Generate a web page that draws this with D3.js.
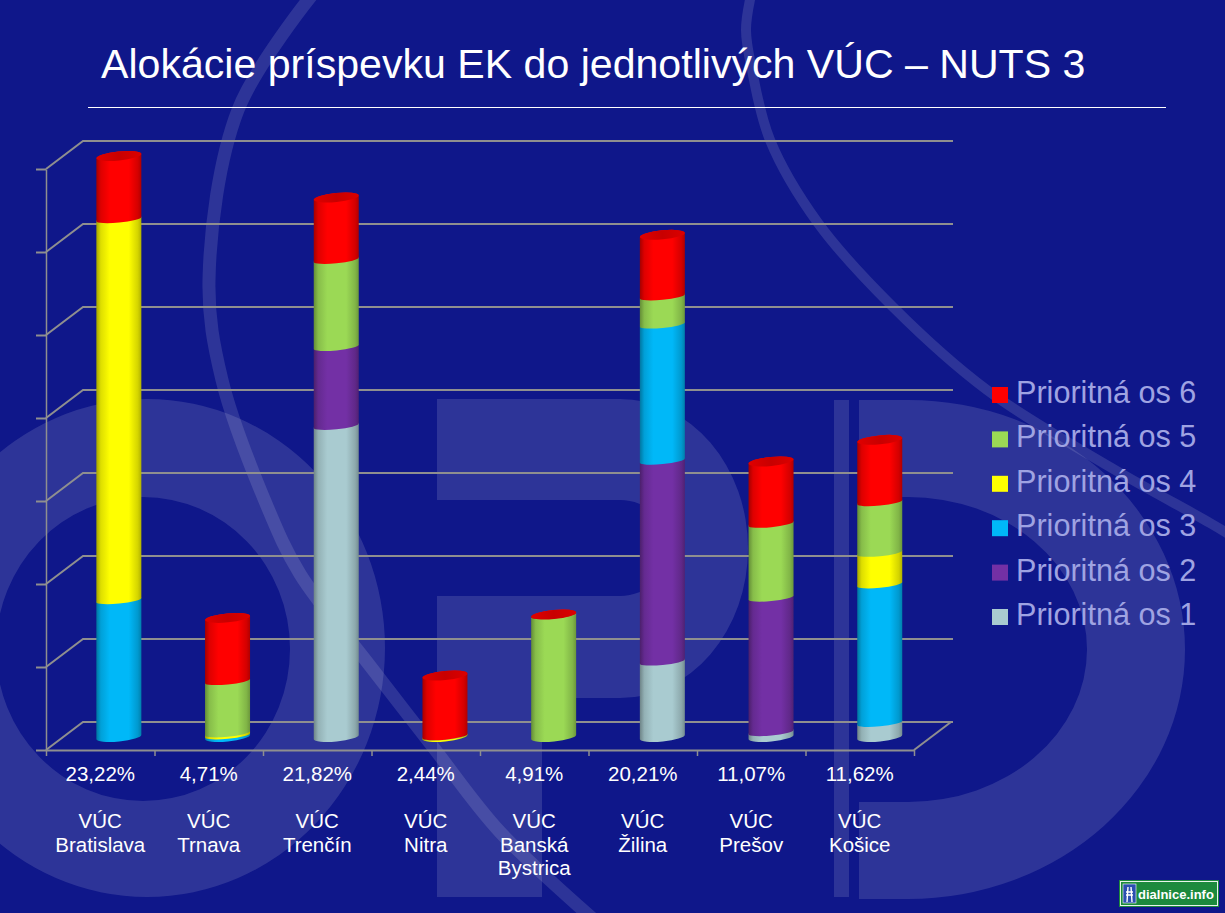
<!DOCTYPE html>
<html>
<head>
<meta charset="utf-8">
<script src="https://cdn.jsdelivr.net/npm/d3@7"></script>
<style>
  html, body { margin: 0; padding: 0; background: #0f178a; }
  svg { display: block; }
  text { font-family: "Liberation Sans", Arial, sans-serif; }
</style>
</head>
<body>
<svg id="chart" width="1225" height="913"></svg>
<script>
// values are read in gridline units (the chart has no printed y labels)
const regions = ["Bratislava", "Trnava", "Trenčín", "Nitra", "Banská Bystrica", "Žilina", "Prešov", "Košice"];
const shares = ["23,22%", "4,71%", "21,82%", "2,44%", "4,91%", "20,21%", "11,07%", "11,62%"];
const os1 = [0, 0, 3.75, 0, 0, 0.91, 0.06, 0.17];
const os2 = [0, 0, 0.95, 0, 0, 2.42, 1.62, 0];
const os3 = [1.65, 0.02, 0, 0, 0, 1.64, 0, 1.67];
const os4 = [4.59, 0.025, 0, 0.005, 0, 0, 0, 0.38];
const os5 = [0, 0.63, 1.05, 0.005, 1.47, 0.34, 0.89, 0.61];
const os6 = [0.76, 0.76, 0.75, 0.73, 0.005, 0.74, 0.75, 0.75];
const seriesNames = ["Prioritná os 1", "Prioritná os 2", "Prioritná os 3", "Prioritná os 4", "Prioritná os 5", "Prioritná os 6"];
const seriesColors = ["#a9cbd0", "#7330a5", "#00b8f8", "#ffff00", "#9bd955", "#ff0000"];
const gridTicks = [0, 1, 2, 3, 4, 5, 6, 7];

const svg = d3.select("#chart");
const width = 1225, height = 913;
const depthX = 37, depthY = 28;

const table = regions.map((r, i) => ({
  region: r,
  "Prioritná os 1": os1[i], "Prioritná os 2": os2[i], "Prioritná os 3": os3[i],
  "Prioritná os 4": os4[i], "Prioritná os 5": os5[i], "Prioritná os 6": os6[i]
}));
const stacked = d3.stack().keys(seriesNames)(table);

const xBand = d3.scaleBand().domain(regions).range([46, 914]);
const xBar = d3.scaleBand().domain(regions).range([46, 915.6]);
const xEdge = d3.scaleLinear().domain([0, regions.length]).range([46, 914]);
const yFront = d3.scaleLinear().domain([0, 7]).range([750, 169]);

// ---- slide background ----
svg.append("rect").attr("width", width).attr("height", height).attr("fill", "#0f178a");
const deco = svg.append("g").attr("fill", "#ffffff").attr("fill-opacity", 0.125);

// big O
deco.append("path").attr("fill-rule", "evenodd").attr("d",
  "M147,399 A238,249 0 1 1 147,897 A238,249 0 1 1 147,399 Z " +
  "M143,497 A147,152 0 1 0 143,801 A147,152 0 1 0 143,497 Z");
// P
deco.append("path").attr("d",
  "M437,399 H620 A128,149.5 0 0 1 620,698 H542 V897 H437 V596 H620 A50,48 0 0 0 620,500 H437 Z");
// D
deco.append("rect").attr("x", 834).attr("y", 400).attr("width", 15).attr("height", 497);
deco.append("path").attr("d",
  "M859,400 H908 A277,249.5 0 0 1 908,899 H859 V802 H908 A179,152.5 0 0 0 908,497 H859 Z");

// the two swooshes
const swoosh = d3.line().curve(d3.curveCatmullRom.alpha(0.5));
const swooshG = svg.append("g").attr("fill", "none").attr("stroke", "#ffffff").attr("stroke-opacity", 0.125);
swooshG.append("path").attr("stroke-width", 13).attr("d", swoosh([
  [312, -5], [238, 110], [209, 280], [222, 380], [267, 506], [300, 574], [367, 662], [433, 747], [500, 832], [600, 925]
]));
swooshG.append("path").attr("stroke-width", 10).attr("d", swoosh([
  [751, -5], [746, 30], [752, 70], [770, 140], [818, 223], [893, 307], [987, 390], [1110, 467], [1210, 523], [1235, 538]
]));

// ---- gradients for the cylinders ----
const defs = svg.append("defs");
function shadedStops(id, color) {
  const g = defs.append("linearGradient").attr("id", id);
  const c = d3.color(color);
  [[0, 0.62], [0.1, 0.88], [0.3, 1], [0.72, 1], [0.92, 0.84], [1, 0.68]].forEach(s => {
    g.append("stop").attr("offset", s[0]).attr("stop-color", c.darker((1 - s[1]) * 3.2));
  });
}
seriesColors.forEach((c, i) => shadedStops("shade" + i, c));
const capGrad = defs.append("linearGradient").attr("id", "capShade");
capGrad.append("stop").attr("offset", 0).attr("stop-color", "#e00000");
capGrad.append("stop").attr("offset", 0.5).attr("stop-color", "#c80000");
capGrad.append("stop").attr("offset", 1).attr("stop-color", "#dc0000");

// ---- title ----
svg.append("text").attr("x", 101).attr("y", 78).attr("fill", "#fff")
  .attr("font-size", 41.1).text("Alokácie príspevku EK do jednotlivých VÚC – NUTS 3");
svg.append("line").attr("x1", 88).attr("x2", 1166).attr("y1", 107.5).attr("y2", 107.5)
  .attr("stroke", "#fff").attr("stroke-width", 1);

// ---- 3d frame ----
const gridColor = "#8f8f8f";
const frame = svg.append("g").attr("fill", "none").attr("stroke", gridColor).attr("stroke-width", 2);
frame.selectAll(".grid")
  .data(gridTicks)
  .join("path")
  .attr("class", "grid")
  .attr("d", d => `M46,${yFront(d)} L${46 + depthX},${yFront(d) - depthY} H953`);
frame.append("path").attr("d", `M914,750 L${914 + depthX},${750 - depthY}`);

const yAxis = svg.append("g").attr("transform", "translate(46,0)")
  .call(d3.axisLeft(yFront).tickValues(gridTicks).tickSize(10).tickSizeOuter(0).tickFormat(""));
const xAxis = svg.append("g").attr("transform", "translate(0,750)")
  .call(d3.axisBottom(xEdge).tickValues(d3.range(regions.length + 1)).tickSize(6).tickSizeOuter(0).tickFormat(""));
yAxis.selectAll("path").attr("stroke", gridColor).attr("stroke-width", 1.5);
yAxis.selectAll("line").attr("stroke", gridColor).attr("stroke-width", 2);
xAxis.selectAll("path").attr("stroke", gridColor).attr("stroke-width", 2);
xAxis.selectAll("line").attr("stroke", gridColor).attr("stroke-width", 1.5);

// ---- cylinders ----
const barR = 22.5, ryEdge = 3.5, ryBase = 4.5, ryCap = 4.5, tilt = 2.2;
const rot = -Math.atan2(2 * tilt, 2 * barR) * 180 / Math.PI;
const rxEll = Math.hypot(barR, tilt);
const cx = d => xBar(d) + xBar.bandwidth() / 2 + depthX / 2;
const yBar = v => yFront(v) - 13;

function segmentPath(region, v0, v1) {
  const l = cx(region) - barR, r = cx(region) + barR;
  const yb = yBar(v0), yt = yBar(v1);
  const ryBottom = v0 === 0 ? ryBase : ryEdge;
  return `M${l},${yt + tilt} L${l},${yb + tilt}` +
    ` A${rxEll},${ryBottom} ${rot} 0 0 ${r},${yb - tilt}` +
    ` L${r},${yt - tilt}` +
    ` A${rxEll},${ryCap} ${rot} 0 0 ${l},${yt + tilt} Z`;
}

const barsG = svg.append("g");
stacked.forEach((serie, si) => {
  barsG.append("g").selectAll("path")
    .data(serie.filter(d => d[1] - d[0] > 0))
    .join("path")
    .attr("fill", `url(#shade${si})`)
    .attr("d", d => segmentPath(d.data.region, d[0], d[1]));
});
// caps on top of each stack
barsG.append("g").selectAll("ellipse")
  .data(table)
  .join("ellipse")
  .attr("cx", 0).attr("cy", 0)
  .attr("rx", rxEll).attr("ry", ryCap)
  .attr("fill", "url(#capShade)")
  .attr("transform", (d, i) => {
    const top = d3.max(stacked, s => s[i][1]);
    return `translate(${cx(d.region)},${yBar(top)}) rotate(${rot})`;
  });

// ---- labels under the bars ----
const labels = svg.append("g").attr("fill", "#fff").attr("font-size", 20.5).attr("text-anchor", "middle");
labels.selectAll(".share")
  .data(shares)
  .join("text")
  .attr("class", "share")
  .attr("x", (d, i) => xBand(regions[i]) + xBand.bandwidth() / 2)
  .attr("y", 781)
  .text(d => d);
labels.selectAll(".cat")
  .data(regions)
  .join("text")
  .attr("class", "cat")
  .attr("y", 828)
  .each(function(d) {
    const t = d3.select(this);
    const x = xBand(d) + xBand.bandwidth() / 2;
    ["VÚC"].concat(d.split(" ")).forEach((w, i) => {
      t.append("tspan").attr("x", x).attr("dy", i ? 23.5 : 0).text(w);
    });
  });

// ---- legend ----
const legend = svg.append("g");
const legendRows = seriesNames.map((n, i) => ({ name: n, color: seriesColors[i] })).reverse();
const yLegend = d3.scalePoint().domain(legendRows.map(d => d.name)).range([403, 625]);
legend.selectAll("rect")
  .data(legendRows)
  .join("rect")
  .attr("x", 992)
  .attr("y", d => yLegend(d.name) - 16)
  .attr("width", 16).attr("height", 16)
  .attr("fill", d => d.color);
legend.selectAll("text")
  .data(legendRows)
  .join("text")
  .attr("x", 1016)
  .attr("y", d => yLegend(d.name))
  .attr("font-size", 30.6)
  .attr("fill", "#9fa3e2")
  .text(d => d.name);

// ---- dialnice.info badge ----
const badge = svg.append("g").attr("transform", "translate(1119,880)");
badge.append("rect").attr("width", 100).attr("height", 27).attr("fill", "#1c8a3c");
badge.append("rect").attr("x", 1.5).attr("y", 1.5).attr("width", 97).attr("height", 24)
  .attr("fill", "none").attr("stroke", "#e8f4ea").attr("stroke-width", 1);
badge.append("rect").attr("x", 4).attr("y", 4).attr("width", 13).attr("height", 19).attr("fill", "#2a4fb0").attr("stroke", "#fff").attr("stroke-width", 0.6);
badge.append("path").attr("stroke", "#fff").attr("stroke-width", 1.4).attr("fill", "none")
  .attr("d", "M8,22 L9,7 M13,22 L12,7 M7,12 H14 M7,15 H14");
badge.append("text").attr("x", 19).attr("y", 19).attr("fill", "#fff")
  .attr("font-size", 13).attr("font-weight", "bold").text("dialnice.info");
</script>
</body>
</html>
